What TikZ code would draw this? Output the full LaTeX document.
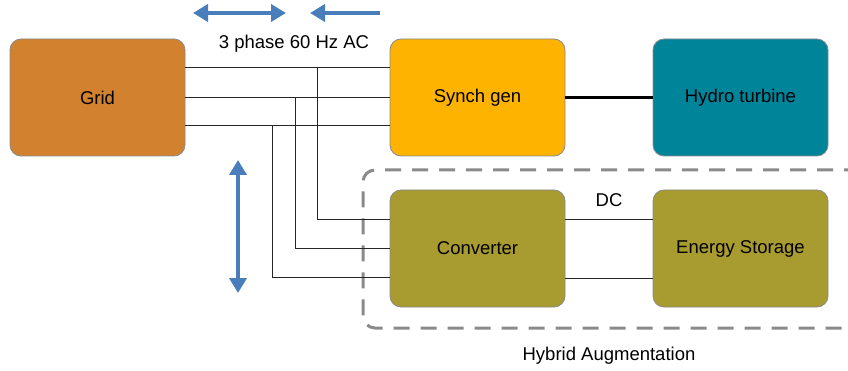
\documentclass[tikz,border=0pt]{standalone}
\usepackage{fontspec}
\setmainfont{Liberation Sans}
\usetikzlibrary{arrows.meta}
\definecolor{gridc}{HTML}{D2812E}
\definecolor{synchc}{HTML}{FDB300}
\definecolor{hydroc}{HTML}{00849A}
\definecolor{olivec}{HTML}{A89B30}
\definecolor{arrowc}{HTML}{4A7EBB}
\definecolor{borderc}{HTML}{8A8A8A}
\tikzset{
  blk/.style={draw=borderc, line width=0.8pt, rounded corners=11pt, minimum width=175pt, minimum height=117pt, inner sep=0pt, font=\fontsize{18.5}{22}\selectfont},
  wire/.style={draw=black!85, line width=1pt},
  bluearrow/.style={draw=arrowc, line width=4pt, -{Triangle[length=15pt,width=17pt]}},
  lbl/.style={font=\fontsize{18.5}{22}\selectfont, inner sep=0pt}
}
\begin{document}
\begin{tikzpicture}[x=1pt,y=-1pt]
\useasboundingbox (0,0) rectangle (848,371);
% dashed group box
\draw[borderc, line width=3pt, dash pattern=on 16pt off 11pt, rounded corners=12pt]
  (860,170) -- (363,170) -- (363,328) -- (860,328);
% blocks
\node[blk, fill=gridc] (grid) at (97.5,97.5) {Grid};
\node[blk, fill=synchc] (synch) at (477.5,97.5) {Synch gen};
\node[blk, fill=hydroc] (hydro) at (740.5,97.5) {Hydro turbine};
\node[blk, fill=olivec] (conv) at (477.5,248.5) {Converter};
\node[blk, fill=olivec] (store) at (740.5,248.5) {Energy Storage};
% AC wires
\draw[wire] ([yshift=29.5pt]grid.east) -- ([yshift=29.5pt]synch.west);
\draw[wire] (grid.east) -- (synch.west);
\draw[wire] ([yshift=-28.5pt]grid.east) -- ([yshift=-28.5pt]synch.west);
\coordinate (t1) at (317,68);
\coordinate (t2) at (295,97.5);
\coordinate (t3) at (272,126);
\draw[wire] (t1) |- ([yshift=28.5pt]conv.west);
\draw[wire] (t2) |- (conv.west);
\draw[wire] (t3) |- ([yshift=-28.5pt]conv.west);
% shaft
\draw[line width=3.5pt, black] (synch.east) -- (hydro.west);
% DC wires
\draw[wire] ([yshift=28.5pt]conv.east) -- ([yshift=28.5pt]store.west);
\draw[wire] ([yshift=-29.5pt]conv.east) -- ([yshift=-29.5pt]store.west);
% labels
\node[lbl] (aclbl) at (294,44) {3 phase 60 Hz AC};
\node[lbl] (dclbl) at (609,200) {DC};
\node[lbl] (hyblbl) at (609,356) {Hybrid Augmentation};
% blue arrows
\coordinate (a1) at (193,13);
\coordinate (a2) at (286,13);
\coordinate (a3) at (380,13);
\coordinate (a4) at (310,13);
\coordinate (a5) at (238,160);
\coordinate (a6) at (238,293);
\draw[bluearrow, {Triangle[length=15pt,width=17pt]}-{Triangle[length=15pt,width=17pt]}] (a1) -- (a2);
\draw[bluearrow] (a3) -- (a4);
\draw[bluearrow, {Triangle[length=15pt,width=17pt]}-{Triangle[length=15pt,width=17pt]}] (a5) -- (a6);
\end{tikzpicture}
\end{document}
